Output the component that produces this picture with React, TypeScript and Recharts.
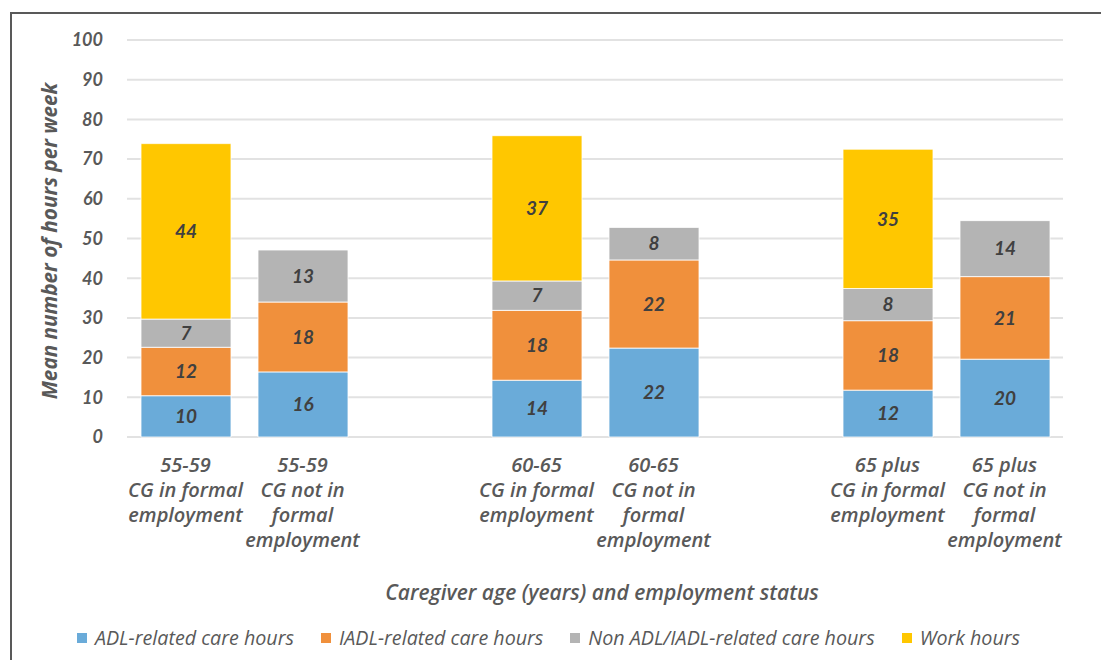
import React from 'react'
import { BarChart, Bar, XAxis, YAxis, CartesianGrid, Legend, LabelList, Label } from 'recharts'

// 8 slots on the category axis, two of them empty to make the gaps between age groups
const slots = ['55-59 in', '55-59 not', 'gap-1', '60-65 in', '60-65 not', 'gap-2', '65+ in', '65+ not']
const tickLabels: string[][] = [
  ['55-59', 'CG in formal', 'employment'],
  ['55-59', 'CG not in', 'formal', 'employment'],
  [],
  ['60-65', 'CG in formal', 'employment'],
  ['60-65', 'CG not in', 'formal', 'employment'],
  [],
  ['65 plus', 'CG in formal', 'employment'],
  ['65 plus', 'CG not in', 'formal', 'employment'],
]

const adl = [10.4, 16.4, null, 14.3, 22.4, null, 11.8, 19.6]
const iadl = [12.2, 17.6, null, 17.6, 22.2, null, 17.5, 20.8]
const nonAdl = [7.1, 13.1, null, 7.4, 8.2, null, 8.1, 14.1]
const work = [44.2, null, null, 36.6, null, null, 35.1, null]

const yTicks = [0, 10, 20, 30, 40, 50, 60, 70, 80, 90, 100]

const SERIES = [
  { key: 'adl', label: 'ADL-related care hours', color: '#6AABD9' },
  { key: 'iadl', label: 'IADL-related care hours', color: '#F0903C' },
  { key: 'nonAdl', label: 'Non ADL/IADL-related care hours', color: '#B4B4B4' },
  { key: 'work', label: 'Work hours', color: '#FFC700' },
]

const data = slots.map((s, i) => ({
  slot: s,
  adl: adl[i],
  iadl: iadl[i],
  nonAdl: nonAdl[i],
  work: work[i],
}))

const FONT = 'Lato, "Open Sans", sans-serif'
const WIDE = '"Open Sans", Lato, sans-serif'
const GREY = '#595959'

function CategoryTick(props: any) {
  const { x, y, payload } = props
  const lines = tickLabels[slots.indexOf(payload.value)] || []
  return (
    <text x={x} y={y} textAnchor="middle" fill={GREY} fontFamily={WIDE}
      fontStyle="italic" fontWeight={600} fontSize={20}>
      {lines.map((l, i) => (
        <tspan key={i} x={x} dy={i === 0 ? 35 : 25}>{l}</tspan>
      ))}
    </text>
  )
}

function LegendContent() {
  return (
    <div style={{ display: 'flex', justifyContent: 'center', alignItems: 'center', gap: 27,
      fontFamily: WIDE, fontStyle: 'italic', fontSize: 19.7, color: GREY, paddingTop: 4, paddingLeft: 34 }}>
      {SERIES.map(s => (
        <div key={s.key} style={{ display: 'flex', alignItems: 'center' }}>
          <span style={{ width: 10, height: 10, background: s.color, marginRight: 8, display: 'inline-block' }} />
          <span>{s.label}</span>
        </div>
      ))}
    </div>
  )
}

const fmt = (v: any) => (v == null ? '' : String(Math.round(Number(v))))

export default function App() {
  return (
    <div style={{ position: 'absolute', left: 0, top: 0, width: 1101, height: 660, background: '#fff', overflow: 'hidden' }}>
      <div style={{ position: 'absolute', left: 10, top: 12, width: 1100, height: 660,
        borderTop: '2px solid #595959', borderLeft: '2px solid #595959' }} />
      <BarChart width={1101} height={660} data={data}
        margin={{ top: 40, right: 38, left: 0, bottom: 0 }}>
        <CartesianGrid vertical={false} stroke="#e2e2e2" strokeWidth={2} />
        <XAxis dataKey="slot" axisLine={false} tickLine={false} tickSize={0} tickMargin={0}
          height={183} interval={0} tick={<CategoryTick />}>
          <Label value="Caregiver age (years) and employment status" position="insideBottom"
            offset={20} dx={7} fill={GREY} fontFamily={WIDE} fontStyle="italic" fontWeight={600} fontSize={21} />
        </XAxis>
        <YAxis domain={[0, 100]} ticks={yTicks} axisLine={false} tickLine={false}
          tickSize={0} tickMargin={24} width={127}
          tick={{ fill: GREY, fontFamily: FONT, fontStyle: 'italic', fontWeight: 700, fontSize: 18 }}>
          <Label
            content={() => (
              <text x={57} y={241} transform="rotate(-90 57 241)" textAnchor="middle"
                fill={GREY} fontFamily={WIDE} fontStyle="italic" fontWeight={700} fontSize={20.7}>
                Mean number of hours per week
              </text>
            )}
          />
        </YAxis>
        <Legend verticalAlign="bottom" height={40} content={<LegendContent />} />
        {SERIES.map(s => (
          <Bar key={s.key} dataKey={s.key} name={s.label} stackId="a" fill={s.color}
            barSize={90} stroke="#ffffff" strokeWidth={0.8} isAnimationActive={false}>
            <LabelList dataKey={s.key} position="center" formatter={fmt}
              fill="#404040" fontFamily={FONT} fontStyle="italic" fontWeight={700} fontSize={19} />
          </Bar>
        ))}
      </BarChart>
    </div>
  )
}
